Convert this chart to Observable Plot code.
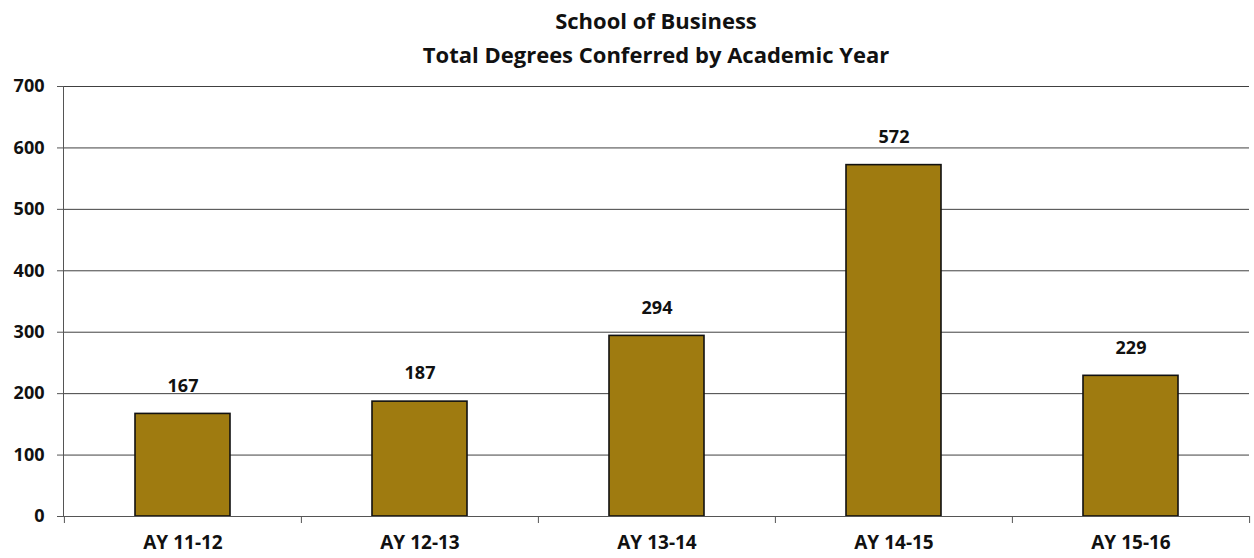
<!DOCTYPE html>
<html>
<head>
<meta charset="utf-8">
<script src="https://cdn.jsdelivr.net/npm/d3@7"></script>
<script src="https://cdn.jsdelivr.net/npm/@observablehq/plot@0.6"></script>
<style>
  html, body { margin: 0; padding: 0; background: #fff; }
  #title { width: 1186px; margin-left: 63px; height: 71px; padding-top: 3px; box-sizing: border-box;
           text-align: center; font-family: "Open Sans", Lato, sans-serif; font-weight: bold;
           font-size: 22px; line-height: 34px; color: #111; }
</style>
</head>
<body>
<div id="title">School of Business<br>Total Degrees Conferred by Academic Year</div>
<div id="chart"></div>
<script>
const categories = ["AY 11-12", "AY 12-13", "AY 13-14", "AY 14-15", "AY 15-16"];
const degrees = [167, 187, 294, 572, 229];
const yTicks = [0, 100, 200, 300, 400, 500, 600, 700];

const data = categories.map((c, i) => ({year: c, value: degrees[i]}));

const W = 1254, mL = 63, mR = 5;
const step = (W - mL - mR) / categories.length;
const font = "'Open Sans', Lato, sans-serif";

const chart = Plot.plot({
  width: W,
  height: 487,
  marginLeft: mL,
  marginRight: mR,
  marginTop: 15,
  marginBottom: 42,
  style: {fontFamily: font, fontWeight: "bold", color: "#111", background: "#fff"},
  x: {type: "band", domain: categories, paddingInner: 0.6, paddingOuter: 0.3, label: null},
  y: {domain: [0, 700], label: null},
  marks: [
    Plot.gridY(yTicks, {stroke: "#000", strokeOpacity: 0.75, strokeWidth: 1}),
    Plot.axisY(yTicks, {tickSize: 6, tickPadding: 13, fontSize: 18, fontWeight: "bold", stroke: "#555", label: null}),
    Plot.frame({anchor: "left", stroke: "#555"}),
    Plot.barY(data, {x: "year", y: "value", fill: "#9F7B10", stroke: "#111", strokeWidth: 1.6}),
    Plot.ruleY([0], {stroke: "#555", strokeWidth: 1}),
    Plot.axisX({tickSize: 0, tickPadding: 19, fontSize: 19, fontWeight: "bold", label: null}),
    Plot.axisX({tickSize: 7, dx: -step / 2, text: null, stroke: "#555", label: null}),
    Plot.axisX([categories[categories.length - 1]], {tickSize: 7, dx: step / 2, text: null, stroke: "#555", label: null}),
    Plot.text(data, {x: "year", y: "value", text: d => String(d.value), dy: -28, fontSize: 18, fontWeight: "bold", fill: "#111"})
  ]
});
document.getElementById("chart").appendChild(chart);
</script>
</body>
</html>
